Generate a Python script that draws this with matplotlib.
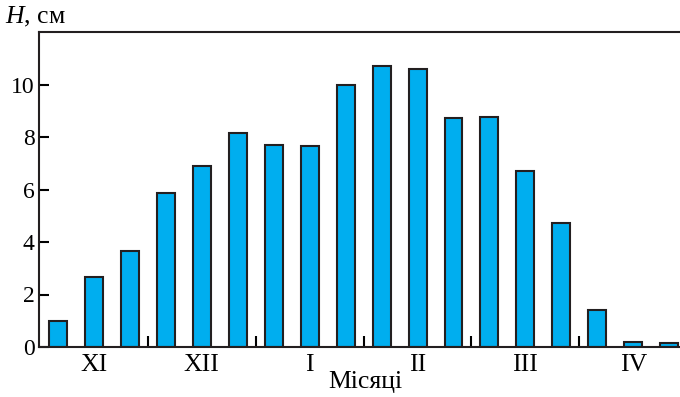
import matplotlib
matplotlib.use("Agg")
import matplotlib.pyplot as plt
import numpy as np

months = ["XI", "XII", "I", "II", "III", "IV"]
heights = [1.0, 2.65, 3.65, 5.85, 6.9, 8.15, 7.7, 7.65, 10.0,
           10.7, 10.6, 8.72, 8.78, 6.7, 4.72, 1.41, 0.19, 0.14]
yticks = [0, 2, 4, 6, 8, 10]

plt.rcParams['font.family'] = ['Liberation Serif', 'DejaVu Serif']
plt.rcParams['mathtext.fontset'] = 'custom'
plt.rcParams['mathtext.it'] = 'Liberation Serif:italic'
plt.rcParams['mathtext.rm'] = 'Liberation Serif'

fig = plt.figure(figsize=(6.8, 3.97), dpi=100)
ax = fig.add_axes([39/680, 50/397, 1 - 39/680, (347-32)/397])

x = np.arange(len(heights))
ax.bar(x, heights, width=0.5, color="#00AEEF", edgecolor="#231f20", linewidth=1.5)

ax.set_xlim(-0.53, 17.3)
ax.set_ylim(0, 12)

ax.set_yticks(yticks)
ax.set_yticklabels([str(v) for v in yticks], fontsize=17)
ax.tick_params(axis='y', direction='in', length=7, width=1.5, pad=3)

centers = [3*i + 1 for i in range(len(months))]
ax.set_xticks(centers)
ax.set_xticklabels(months, fontsize=18.5)
ax.tick_params(axis='x', which='major', length=0, pad=5)
ax.set_xticks([3*i + 2.5 for i in range(len(months) - 1)], minor=True)
ax.tick_params(axis='x', which='minor', direction='in', length=8, width=1.5)

for s in ['left', 'bottom', 'top']:
    ax.spines[s].set_linewidth(1.5)
    ax.spines[s].set_color("#231f20")
ax.spines['right'].set_visible(False)

fig.text(5/680, 1 - 17/397, r"$H$, см", fontsize=18.5, va='center', ha='left')
fig.text(365/680, 1 - 382/397, "Місяці", fontsize=18.5, va='center', ha='center')

fig.savefig("out.png", dpi=100)
